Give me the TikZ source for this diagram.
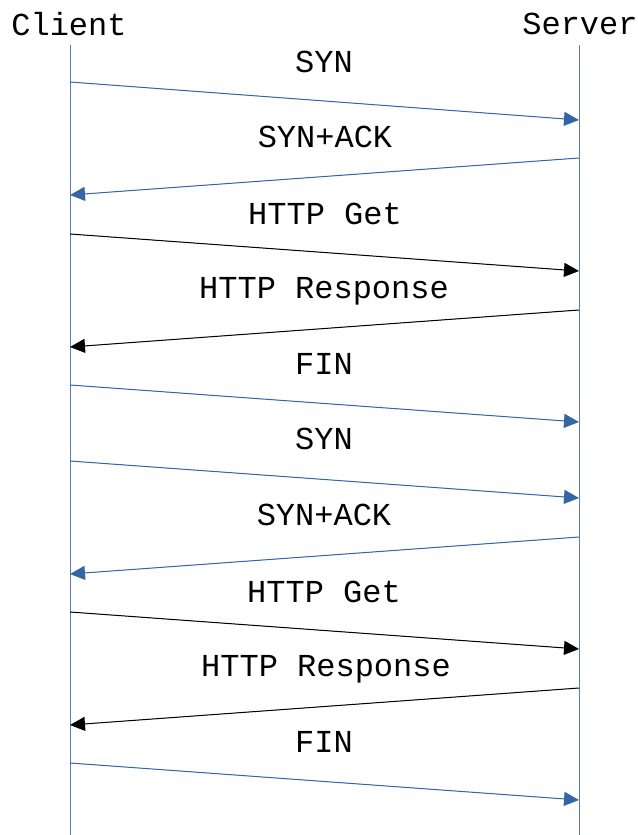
\documentclass[tikz,border=0pt]{standalone}
\usepackage{fontspec}
\setmonofont{Liberation Mono}
\usetikzlibrary{arrows.meta}
\definecolor{msgblue}{HTML}{3465A4}
\definecolor{lifeblue}{HTML}{5A7DB5}
\tikzset{
  lbl/.style={font=\ttfamily\fontsize{32}{32}\selectfont, inner sep=0pt, anchor=center},
  lifeline/.style={draw=lifeblue, line width=1pt},
  msg/.style={line width=1pt, -{Triangle[length=15pt,width=14pt]}},
  ctl/.style={msg, draw=msgblue, fill=msgblue},
  dat/.style={msg, draw=black, fill=black},
}
\begin{document}
\begin{tikzpicture}[x=1pt,y=-1pt]
\useasboundingbox (0,0) rectangle (637,835);
% participant headers
\node[lbl] (client) at (69,24) {Client};
\node[lbl] (server) at (580,24) {Server};
% lifelines
\coordinate (ctop) at (70,45);
\coordinate (cbot) at (70,835);
\coordinate (stop) at (579,45);
\coordinate (sbot) at (579,835);
\draw[lifeline] (ctop) -- (cbot);
\draw[lifeline] (stop) -- (sbot);
% message end points on the lifelines
\foreach \i/\a/\b in {1/82/120, 2/195/158, 3/234/271, 4/347/310, 5/385/422,
                      6/461/498, 7/574/537, 8/612/649, 9/725/688, 10/763/800} {
  \coordinate (c\i) at (70,\a);
  \coordinate (s\i) at (579,\b);
}
% messages
\draw[ctl] (c1) -- (s1);
\draw[ctl] (s2) -- (c2);
\draw[dat] (c3) -- (s3);
\draw[dat] (s4) -- (c4);
\draw[ctl] (c5) -- (s5);
\draw[ctl] (c6) -- (s6);
\draw[ctl] (s7) -- (c7);
\draw[dat] (c8) -- (s8);
\draw[dat] (s9) -- (c9);
\draw[ctl] (c10) -- (s10);
% message labels
\node[lbl] (m1) at (324,62) {SYN};
\node[lbl] (m2) at (325,137) {SYN+ACK};
\node[lbl] (m3) at (325,214) {HTTP Get};
\node[lbl] (m4) at (324,291) {HTTP Response};
\node[lbl] (m5) at (324,364) {FIN};
\node[lbl] (m6) at (324,439) {SYN};
\node[lbl] (m7) at (324,515) {SYN+ACK};
\node[lbl] (m8) at (324,592) {HTTP Get};
\node[lbl] (m9) at (326,669) {HTTP Response};
\node[lbl] (m10) at (324,742) {FIN};
\end{tikzpicture}
\end{document}
